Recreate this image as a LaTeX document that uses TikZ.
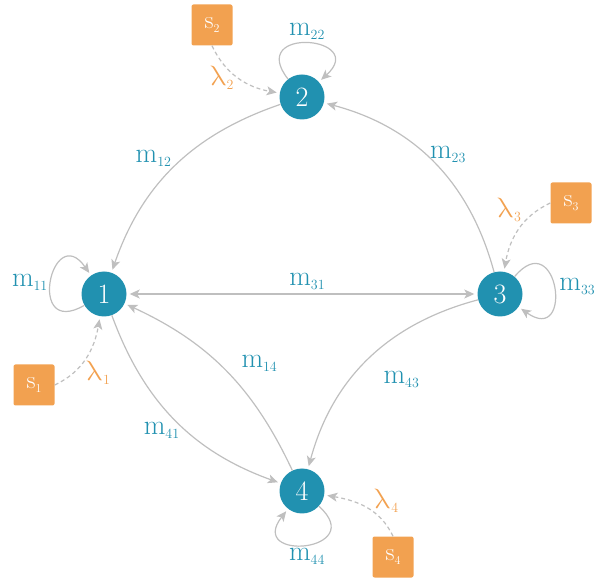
\documentclass[tikz,border=0pt]{standalone}
\usepackage{unicode-math}
\usetikzlibrary{arrows.meta}
\definecolor{tealc}{HTML}{2191B0}
\definecolor{orngc}{HTML}{F2A150}
\definecolor{edgc}{HTML}{BFBFBF}
\newcommand\subsc[1]{\raisebox{-4pt}{\fontsize{14}{16}\selectfont #1}}
\newcommand\subss[1]{\raisebox{-4pt}{\fontsize{12}{14}\selectfont #1}}
\begin{document}
\begin{tikzpicture}[x=1pt,y=1pt,
  state/.style={circle, fill=tealc, text=white, minimum size=45pt, inner sep=0pt, font=\fontsize{28}{34}\selectfont},
  src/.style={rectangle, rounded corners=2pt, fill=orngc, text=white, minimum size=41pt, inner sep=0pt, font=\fontsize{25}{30}\selectfont},
  tr/.style={draw=edgc, line width=1.2pt, -{Stealth[length=10pt,width=9pt,inset=2.5pt]}, shorten >=3pt},
  inflow/.style={tr, dash pattern=on 4pt off 3pt},
  ml/.style={text=tealc, font=\fontsize{28}{34}\selectfont, inner sep=1pt},
  ll/.style={text=orngc, font=\fontsize{28}{34}\selectfont, inner sep=1pt}]
\useasboundingbox (0,0) rectangle (603,579);
\node[state] (n1) at (104,285) {1};
\node[state] (n2) at (302,482) {2};
\node[state] (n3) at (500,285) {3};
\node[state] (n4) at (302,88) {4};
\node[src] (s1) at (34,194) {s\subss{1}};
\node[src] (s2) at (212,554) {s\subss{2}};
\node[src] (s3) at (571,376) {s\subss{3}};
\node[src] (s4) at (393,22) {s\subss{4}};
% transitions
\draw[tr] (n2) to[bend right=26] node[ml, midway, xshift=-21pt, yshift=8pt] {m\subsc{12}} (n1);
\draw[tr] (n3) to[bend right=30] node[ml, midway, xshift=14pt, yshift=8pt] {m\subsc{23}} (n2);
\draw[tr] (n3) to[bend right=30] node[ml, midway, xshift=33pt, yshift=-20pt] {m\subsc{43}} (n4);
\draw[tr] (n1) to[bend right=25] node[ml, midway, xshift=-14pt, yshift=-10pt] {m\subsc{41}} (n4);
\draw[tr] (n4) to[bend right=20] node[ml, midway, xshift=34pt, yshift=7pt] {m\subsc{14}} (n1);
\draw[tr, {Stealth[length=10pt,width=9pt,inset=2.5pt]}-{Stealth[length=10pt,width=9pt,inset=2.5pt]}, shorten <=3pt] (n1) -- node[ml, midway, xshift=5pt, yshift=12pt] {m\subsc{31}} (n3);
% self loops
\draw[tr] (n1) to[out=210,in=125,distance=68pt] node[ml, midway, left=2pt] {m\subsc{11}} (n1);
\draw[tr] (n2) to[out=128,in=42,distance=68pt] node[ml, midway, above=2pt] {m\subsc{22}} (n2);
\draw[tr] (n3) to[out=50,in=-35,distance=68pt] node[ml, midway, right=4pt] {m\subsc{33}} (n3);
\draw[tr] (n4) to[out=-42,in=-128,distance=68pt] node[ml, midway, below=2pt] {m\subsc{44}} (n4);
% inflows
\draw[inflow] (s2.south) to[out=-65,in=170] node[ll, midway, left=4pt] {$\symup{\lambda}$\subsc{2}} (n2);
\draw[inflow] (s1.east) to[out=25,in=-100] node[ll, midway, below=2pt, xshift=12pt] {$\symup{\lambda}$\subsc{1}} (n1);
\draw[inflow] (s3.west) to[out=-155,in=80] node[ll, midway, above=7pt, xshift=-9pt] {$\symup{\lambda}$\subsc{3}} (n3);
\draw[inflow] (s4.north) to[out=115,in=-10] node[ll, midway, right=8pt, yshift=6pt] {$\symup{\lambda}$\subsc{4}} (n4);
\end{tikzpicture}
\end{document}
